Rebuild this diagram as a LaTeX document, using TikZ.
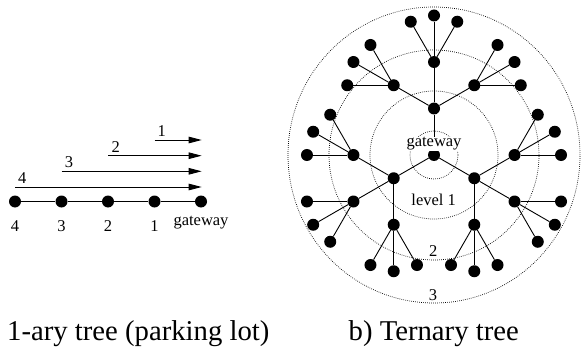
\documentclass[tikz,border=0pt]{standalone}
\usepackage{fontspec}
\setmainfont{Liberation Serif}
\usetikzlibrary{calc,arrows.meta}
\tikzset{
  dot/.style={circle,fill=black,inner sep=0pt,minimum size=12pt},
  edge/.style={line width=0.9pt},
  ring/.style={line width=0.7pt,dash pattern=on 0.7pt off 1.3pt},
  lbl/.style={font=\fontsize{16.5}{18}\selectfont,inner sep=0pt,anchor=base},
  captext/.style={font=\fontsize{28.7}{30}\selectfont,inner sep=0pt,anchor=base west},
  flow/.style={line width=0.9pt,-{Triangle[length=13pt,width=6.5pt]}}
}
\begin{document}
\begin{tikzpicture}[x=1pt,y=1pt]
\useasboundingbox (0,0) rectangle (581,346);
% ---------- left: parking lot ----------
\node[dot] (p4) at (15,144.5) {};
\node[dot] (p3) at (61.5,144.5) {};
\node[dot] (p2) at (108,144.5) {};
\node[dot] (p1) at (154.5,144.5) {};
\node[dot] (pg) at (201,144.5) {};
\draw[edge] (p4) -- (p3) -- (p2) -- (p1) -- (pg);
\node[lbl] (l4) at (15,115) {4};
\node[lbl] (l3) at (61.5,115) {3};
\node[lbl] (l2) at (108,115) {2};
\node[lbl] (l1) at (154.5,115) {1};
\node[lbl] (lg) at (201,120.5) {gateway};
\coordinate (a1s) at (154.5,206);   \coordinate (a1e) at (201.7,206);
\coordinate (a2s) at (108,190.3);   \coordinate (a2e) at (201.7,190.3);
\coordinate (a3s) at (61.5,174.7);  \coordinate (a3e) at (201.7,174.7);
\coordinate (a4s) at (15,159);      \coordinate (a4e) at (201.7,159);
\draw[flow] (a1s) -- (a1e);
\draw[flow] (a2s) -- (a2e);
\draw[flow] (a3s) -- (a3e);
\draw[flow] (a4s) -- (a4e);
\node[lbl] (f1) at (161.7,209.5) {1};
\node[lbl] (f2) at (115.7,193.8) {2};
\node[lbl] (f3) at (69,178.2) {3};
\node[lbl] (f4) at (22.3,162.5) {4};
% ---------- right: ternary tree ----------
\coordinate (c) at (434,191);
\draw[ring] (c) circle[radius=24];
\draw[ring] (c) circle[radius=64];
\draw[ring] (c) circle[radius=105];
\draw[ring] (c) ellipse[x radius=146,y radius=148];
\node[dot] (g) at (c) {};
\foreach \a [count=\i] in {90,210,330} {
  \node[dot] (n\i) at ($(g)+(\a:46.5)$) {};
  \draw[edge] (g) -- (n\i);
  \foreach \b [count=\j] in {-60,0,60} {
    \pgfmathsetmacro\ab{\a+\b}
    \node[dot] (n\i-\j) at ($(n\i)+(\ab:46.5)$) {};
    \draw[edge] (n\i) -- (n\i-\j);
    \foreach \c [count=\k] in {-30,0,30} {
      \pgfmathsetmacro\abc{\ab+\c}
      \node[dot] (n\i-\j-\k) at ($(n\i-\j)+(\abc:46.5)$) {};
      \draw[edge] (n\i-\j) -- (n\i-\j-\k);
    }
  }
}
\node[lbl,fill=white,inner sep=0.5pt] (gw) at (434,199.3) {gateway};
\node[lbl] (lv1) at (433.7,141) {level 1};
\node[lbl] (lv2) at (433.3,89.3) {2};
\node[lbl] (lv3) at (433,46) {3};
% ---------- captions ----------
\node[captext] (ca) at (7,5.5) {1-ary tree (parking lot)};
\node[captext] (cb) at (348.5,5.5) {b) Ternary tree};
\end{tikzpicture}
\end{document}
